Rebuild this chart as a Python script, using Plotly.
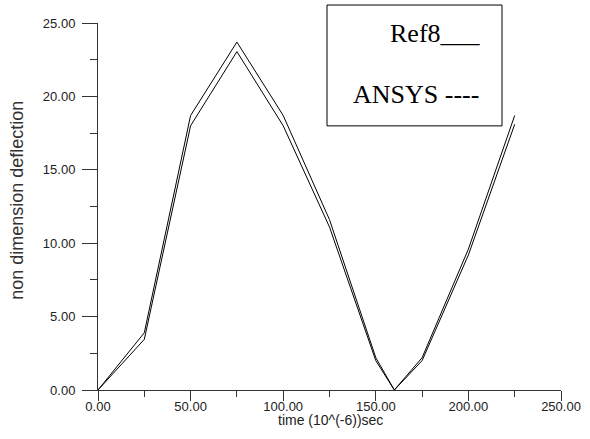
import plotly.graph_objects as go

time_us = [0, 25, 50, 75, 100, 125, 150, 160, 175, 200, 225]
ref8 = [0.0, 3.9, 18.7, 23.7, 18.7, 11.6, 2.2, 0.0, 2.2, 9.6, 18.7]
ansys = [0.0, 3.45, 18.0, 23.05, 18.0, 11.1, 2.0, 0.0, 2.0, 9.2, 18.1]

x_ticks = [0, 50, 100, 150, 200, 250]
y_ticks = [0, 5, 10, 15, 20, 25]

fig = go.Figure()
fig.add_trace(go.Scatter(x=time_us, y=ref8, mode="lines", name="Ref8",
                         line=dict(color="black", width=1)))
fig.add_trace(go.Scatter(x=time_us, y=ansys, mode="lines", name="ANSYS",
                         line=dict(color="black", width=1)))

tick_font = dict(family="Liberation Sans, Arial, sans-serif", size=13, color="#222")
title_font_x = dict(family="Liberation Sans, Arial, sans-serif", size=14, color="#222")
title_font_y = dict(family="Liberation Sans, Arial, sans-serif", size=18, color="#333")

L, R, T, B = 98, 29, 23, 48.5
W, H = 590, 439
pw, ph = W - L - R, H - T - B

fig.update_layout(
    width=W, height=H,
    margin=dict(l=L, r=R, t=T, b=B, autoexpand=False),
    paper_bgcolor="white", plot_bgcolor="white",
    showlegend=False,
    font=tick_font,
    xaxis=dict(
        range=[0, 250], tickvals=x_ticks, ticktext=[f"{v:.2f}" for v in x_ticks],
        showgrid=False, zeroline=False, showline=True, linecolor="#333", linewidth=1,
        ticks="outside", ticklen=10, tickcolor="#333", tickwidth=1,
        minor=dict(dtick=25, ticks="outside", ticklen=6, tickcolor="#333", showgrid=False),
        automargin=False, tickfont=tick_font, ticklabelstandoff=-6,
    ),
    yaxis=dict(
        range=[0, 25], tickvals=y_ticks, ticktext=[f"{v:.2f}" for v in y_ticks],
        showgrid=False, zeroline=False, showline=True, linecolor="#333", linewidth=1,
        ticks="outside", ticklen=15, tickcolor="#333", tickwidth=1,
        minor=dict(dtick=2.5, ticks="outside", ticklen=7, tickcolor="#333", showgrid=False),
        automargin=False, tickfont=tick_font, ticklabelstandoff=4,
    ),
)

def px_x(p):
    return (p - L) / pw

def px_y(p):
    return (H - B - p) / ph

# axis titles
fig.add_annotation(xref="paper", yref="paper", x=px_x(330), y=px_y(421),
                   text="time (10^(-6))sec", showarrow=False,
                   xanchor="center", yanchor="middle", font=title_font_x)
fig.add_annotation(xref="paper", yref="paper", x=px_x(17), y=px_y(201),
                   text="non dimension deflection", showarrow=False, textangle=-90,
                   xanchor="center", yanchor="middle", font=title_font_y)

# legend box
fig.add_shape(type="rect", xref="paper", yref="paper",
              x0=px_x(327), x1=px_x(502), y0=px_y(126), y1=px_y(5),
              line=dict(color="black", width=1), fillcolor="white", layer="above")
legend_font = dict(family="Liberation Serif, Times New Roman, serif", size=26, color="black")
fig.add_annotation(xref="paper", yref="paper", x=px_x(483), y=px_y(34),
                   text="Ref8___", showarrow=False, xanchor="right", yanchor="middle",
                   font=legend_font)
fig.add_annotation(xref="paper", yref="paper", x=px_x(481), y=px_y(95),
                   text="ANSYS ----", showarrow=False, xanchor="right", yanchor="middle",
                   font=legend_font)

fig.write_html("out.html", config={"displayModeBar": False},
               post_script="document.body.style.margin='0';document.body.style.overflow='hidden';")
